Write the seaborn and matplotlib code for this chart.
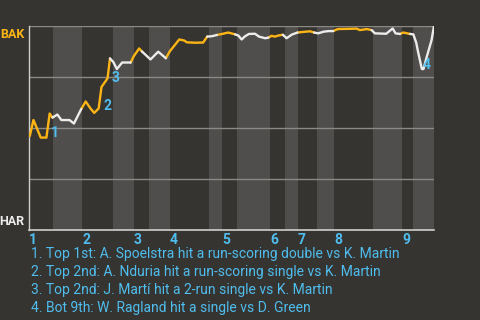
import numpy as np
import pandas as pd
import matplotlib
matplotlib.use("Agg")
import matplotlib.pyplot as plt
import seaborn as sns

# ---- data -------------------------------------------------------------
# game progress (0-100) and BAK win probability (0 = HAR, 1 = BAK)
prog = [0.2, 1.1, 2.9, 4.3, 5.1, 5.8, 7.0, 8.0, 10.0, 11.1, 12.9, 14.0, 15.1,
        16.1, 17.2, 17.9, 19.1, 19.4, 20.0, 20.8, 21.7, 23.0, 25.1, 25.9,
        27.2, 27.9, 30.0, 31.9, 33.8, 34.8, 36.1, 37.1, 38.3, 39.0, 41.0,
        43.0, 44.0, 45.2, 46.4, 47.9, 49.2, 50.9, 51.7, 52.5, 53.3, 54.3,
        55.8, 56.8, 58.3, 59.1, 59.9, 60.7, 61.7, 62.7, 63.6, 64.9, 66.3,
        67.7, 69.4, 70.4, 71.4, 72.7, 73.9, 75.1, 76.0, 76.4, 80.9, 81.7,
        83.4, 84.6, 85.4, 88.2, 89.3, 89.8, 90.5, 91.6, 92.4, 94.1, 94.9,
        95.6, 96.1, 97.0, 97.4, 98.2, 99.4, 100.0]
win_prob = [0.461, 0.539, 0.453, 0.453, 0.571, 0.551, 0.566, 0.539, 0.539,
            0.522, 0.593, 0.630, 0.598, 0.574, 0.596, 0.701, 0.735, 0.745,
            0.841, 0.824, 0.789, 0.821, 0.821, 0.853, 0.890, 0.875, 0.836,
            0.874, 0.842, 0.877, 0.909, 0.934, 0.929, 0.920, 0.918, 0.919,
            0.948, 0.950, 0.956, 0.962, 0.968, 0.959, 0.953, 0.934, 0.949,
            0.961, 0.962, 0.948, 0.940, 0.943, 0.952, 0.948, 0.954, 0.957,
            0.940, 0.958, 0.968, 0.971, 0.974, 0.968, 0.964, 0.972, 0.975,
            0.975, 0.983, 0.985, 0.987, 0.980, 0.985, 0.980, 0.964, 0.962,
            0.980, 0.988, 0.964, 0.961, 0.968, 0.961, 0.959, 0.919, 0.870,
            0.789, 0.789, 0.848, 0.931, 1.000]

# half-inning boundaries on the progress scale (top 1, bot 1, top 2, ...)
half_edges = [0, 5.9, 13.1, 20.7, 25.9, 29.6, 34.8, 44.4, 47.7, 51.4, 59.5,
              63.2, 66.4, 71.1, 75.3, 84.9, 92.1, 94.8, 100]
innings = ["1", "2", "3", "4", "5", "6", "7", "8", "9"]

teams = ["HAR", "BAK"]

event_labels = ["1", "2", "3", "4"]
event_prog = [5.1, 17.9, 20.0, 97.0]
event_text = [
    "1. Top 1st: A. Spoelstra hit a run-scoring double vs K. Martin",
    "2. Top 2nd: A. Nduria hit a run-scoring single vs K. Martin",
    "3. Top 2nd: J. Martí hit a 2-run single vs K. Martin",
    "4. Bot 9th: W. Ragland hit a single vs D. Green",
]

# ---- style ------------------------------------------------------------
BG = "#363430"
BAND = "#4f4e4c"
GRID = "#8a8986"
SPINE = "#cfcfcf"
ORANGE = "#fdb515"
WHITE = "#ececec"
BLUE = "#4fbdee"

sns.set_theme(style="dark")
plt.rcParams["font.family"] = ["Roboto", "DejaVu Sans"]

fig = plt.figure(figsize=(4.8, 3.2), dpi=100, facecolor=BG)
ax = fig.add_axes([29 / 480, 1 - 230 / 320, 405 / 480, 204 / 320])
ax.set_facecolor(BG)

# bottom-half bands
for i in range(1, len(half_edges) - 1, 2):
    ax.axvspan(half_edges[i], half_edges[i + 1], color=BAND, lw=0, zorder=0)

# build line segments per half-inning (segment coloured by half it ends in)
x = np.array(prog)
y = np.array(win_prob)
half_idx = np.clip(np.searchsorted(half_edges, x, side="right") - 1, 0,
                   len(half_edges) - 2)
rows = []
run = 0
start = 0
for i in range(1, len(x) + 1):
    if i == len(x) or half_idx[i] != half_idx[i - 1]:
        side = "top" if half_idx[i - 1] % 2 == 0 else "bot"
        lo = max(start - 1, 0)
        for j in range(lo, i):
            rows.append({"prog": x[j], "wp": y[j], "run": run, "side": side})
        run += 1
        start = i
df = pd.DataFrame(rows)

for y0 in [0.25, 0.5, 0.75, 1.0]:
    ax.axhline(y0, color=GRID, lw=1.0, zorder=1)

sns.lineplot(data=df, x="prog", y="wp", units="run", hue="side",
             estimator=None, sort=False, palette={"top": ORANGE, "bot": WHITE},
             lw=1.7, legend=False, ax=ax, zorder=3)

# event markers
offsets = [(1, -19), (2, -19), (2, -20), (1, 4)]
for lab, ep, off in zip(event_labels, event_prog, offsets):
    k = int(np.argmin(np.abs(x - ep)))
    ax.annotate(lab, (x[k], y[k]), xytext=off, textcoords="offset pixels",
                ha="left", va="center", color=BLUE, fontsize=10,
                fontweight="bold", zorder=4)

ax.set_xlim(0, 100)
ax.set_ylim(0, 1)
ax.grid(False)
for s in ["top", "right"]:
    ax.spines[s].set_visible(False)
ax.spines["left"].set_color(SPINE)
ax.spines["bottom"].set_color(SPINE)
ax.spines["left"].set_linewidth(1.0)
ax.spines["bottom"].set_linewidth(1.2)

ax.set_xticks(half_edges[0:-1:2])
ax.set_xticklabels(innings, ha="left", color=BLUE, fontsize=10,
                   fontweight="bold")
ax.tick_params(axis="x", length=0, pad=2)
ax.set_yticks([0.05, 0.965])
ax.set_yticklabels(teams, fontsize=9, fontweight="bold")
ax.tick_params(axis="y", length=0, pad=3)
ax.get_yticklabels()[0].set_color(WHITE)
ax.get_yticklabels()[1].set_color(ORANGE)
ax.set_xlabel("")
ax.set_ylabel("")

for i, t in enumerate(event_text):
    fig.text(31 / 480, 1 - (254 + 18 * i) / 320, t, ha="left", va="center",
             color=BLUE, fontsize=10)

fig.savefig("out.png", dpi=100, facecolor=BG)
